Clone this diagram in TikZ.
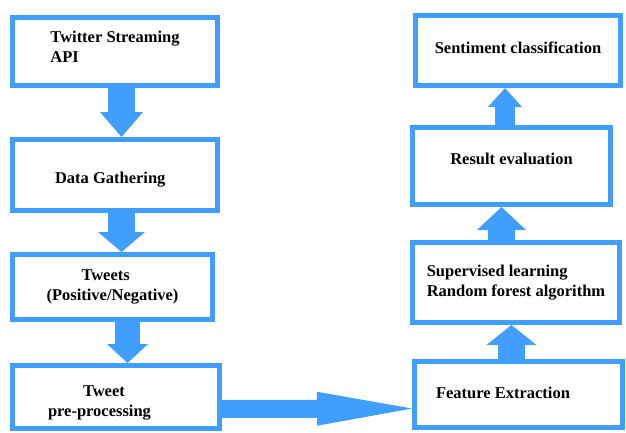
\documentclass[tikz,border=0pt]{standalone}
\usepackage{fontspec}
\setmainfont{Liberation Serif}
\usetikzlibrary{arrows.meta,calc}

\definecolor{flowblue}{RGB}{64,158,255}

\begin{document}
\begin{tikzpicture}[
		x=1pt, y=-1pt,
		box/.style={draw=flowblue, line width=5pt, fill=white, align=flush left,
			font=\bfseries\fontsize{16.5}{20}\selectfont},
		blockarrow/.style n args={3}{draw=flowblue, line width=#1,
			-{Triangle[width=#2, length=#3, line width=0pt]}}
		]
		\useasboundingbox (0,0) rectangle (626,432);
		% left column
		\node[box, minimum width=205pt, minimum height=68pt] at (115,51.5) (api) {Twitter Streaming\\API\rule[-10pt]{0pt}{10pt}};
		\node[box, minimum width=205pt, minimum height=71pt, text width=120pt, inner xsep=42.5pt] at (115,175) (gather) {\rule{0pt}{21.5pt}Data Gathering};
		\node[box, minimum width=200pt, minimum height=65pt] at (112.5,287) (tweets) {\hspace*{35pt}Tweets\\(Positive/Negative)};
		\node[box, minimum width=207pt, minimum height=63pt, text width=136pt, inner xsep=35.5pt] at (116,397) (prep) {\rule{0pt}{22pt}\hspace*{35pt}Tweet\\pre-processing};
		% right column
		\node[box, minimum width=208pt, minimum height=66pt, text width=165pt, inner xsep=21.5pt] at (518.5,394.5) (feat) {Feature Extraction\rule[-4pt]{0pt}{4pt}};
		\node[box, minimum width=207pt, minimum height=80pt] at (516,282.5) (sup) {Supervised learning\\Random forest algorithm};
		\node[box, minimum width=198pt, minimum height=77pt, text depth=14pt] at (511.5,166) (res) {Result evaluation};
		\node[box, minimum width=205pt, minimum height=70pt, text depth=6pt] at (518,50.5) (sent) {Sentiment classification};
		
		% block arrows
		\draw[blockarrow={27pt}{43pt}{25pt}] ([xshift=6.5pt]api.south) -- ([xshift=6.5pt]gather.north);
		\draw[blockarrow={27pt}{47pt}{20pt}] ([xshift=6.5pt]gather.south) -- ([xshift=9pt]tweets.north);
		\draw[blockarrow={25pt}{41pt}{19pt}] ([xshift=15pt]tweets.south) -- ([xshift=11.5pt]prep.north);
		\draw[blockarrow={18pt}{34pt}{95pt}] ([yshift=-12pt]prep.east) -- ([yshift=-14pt]feat.west);
		\draw[blockarrow={27pt}{50pt}{20pt}] ([xshift=-7pt]feat.north) -- ([xshift=-4.5pt]sup.south);
		\draw[blockarrow={27pt}{49pt}{23pt}] ([xshift=-14.5pt]sup.north) -- ([xshift=-10pt]res.south);
		\draw[blockarrow={20pt}{34pt}{19pt}] ([xshift=-6.5pt]res.north) -- ([xshift=-13pt]sent.south);
	\end{tikzpicture}
\end{document}
